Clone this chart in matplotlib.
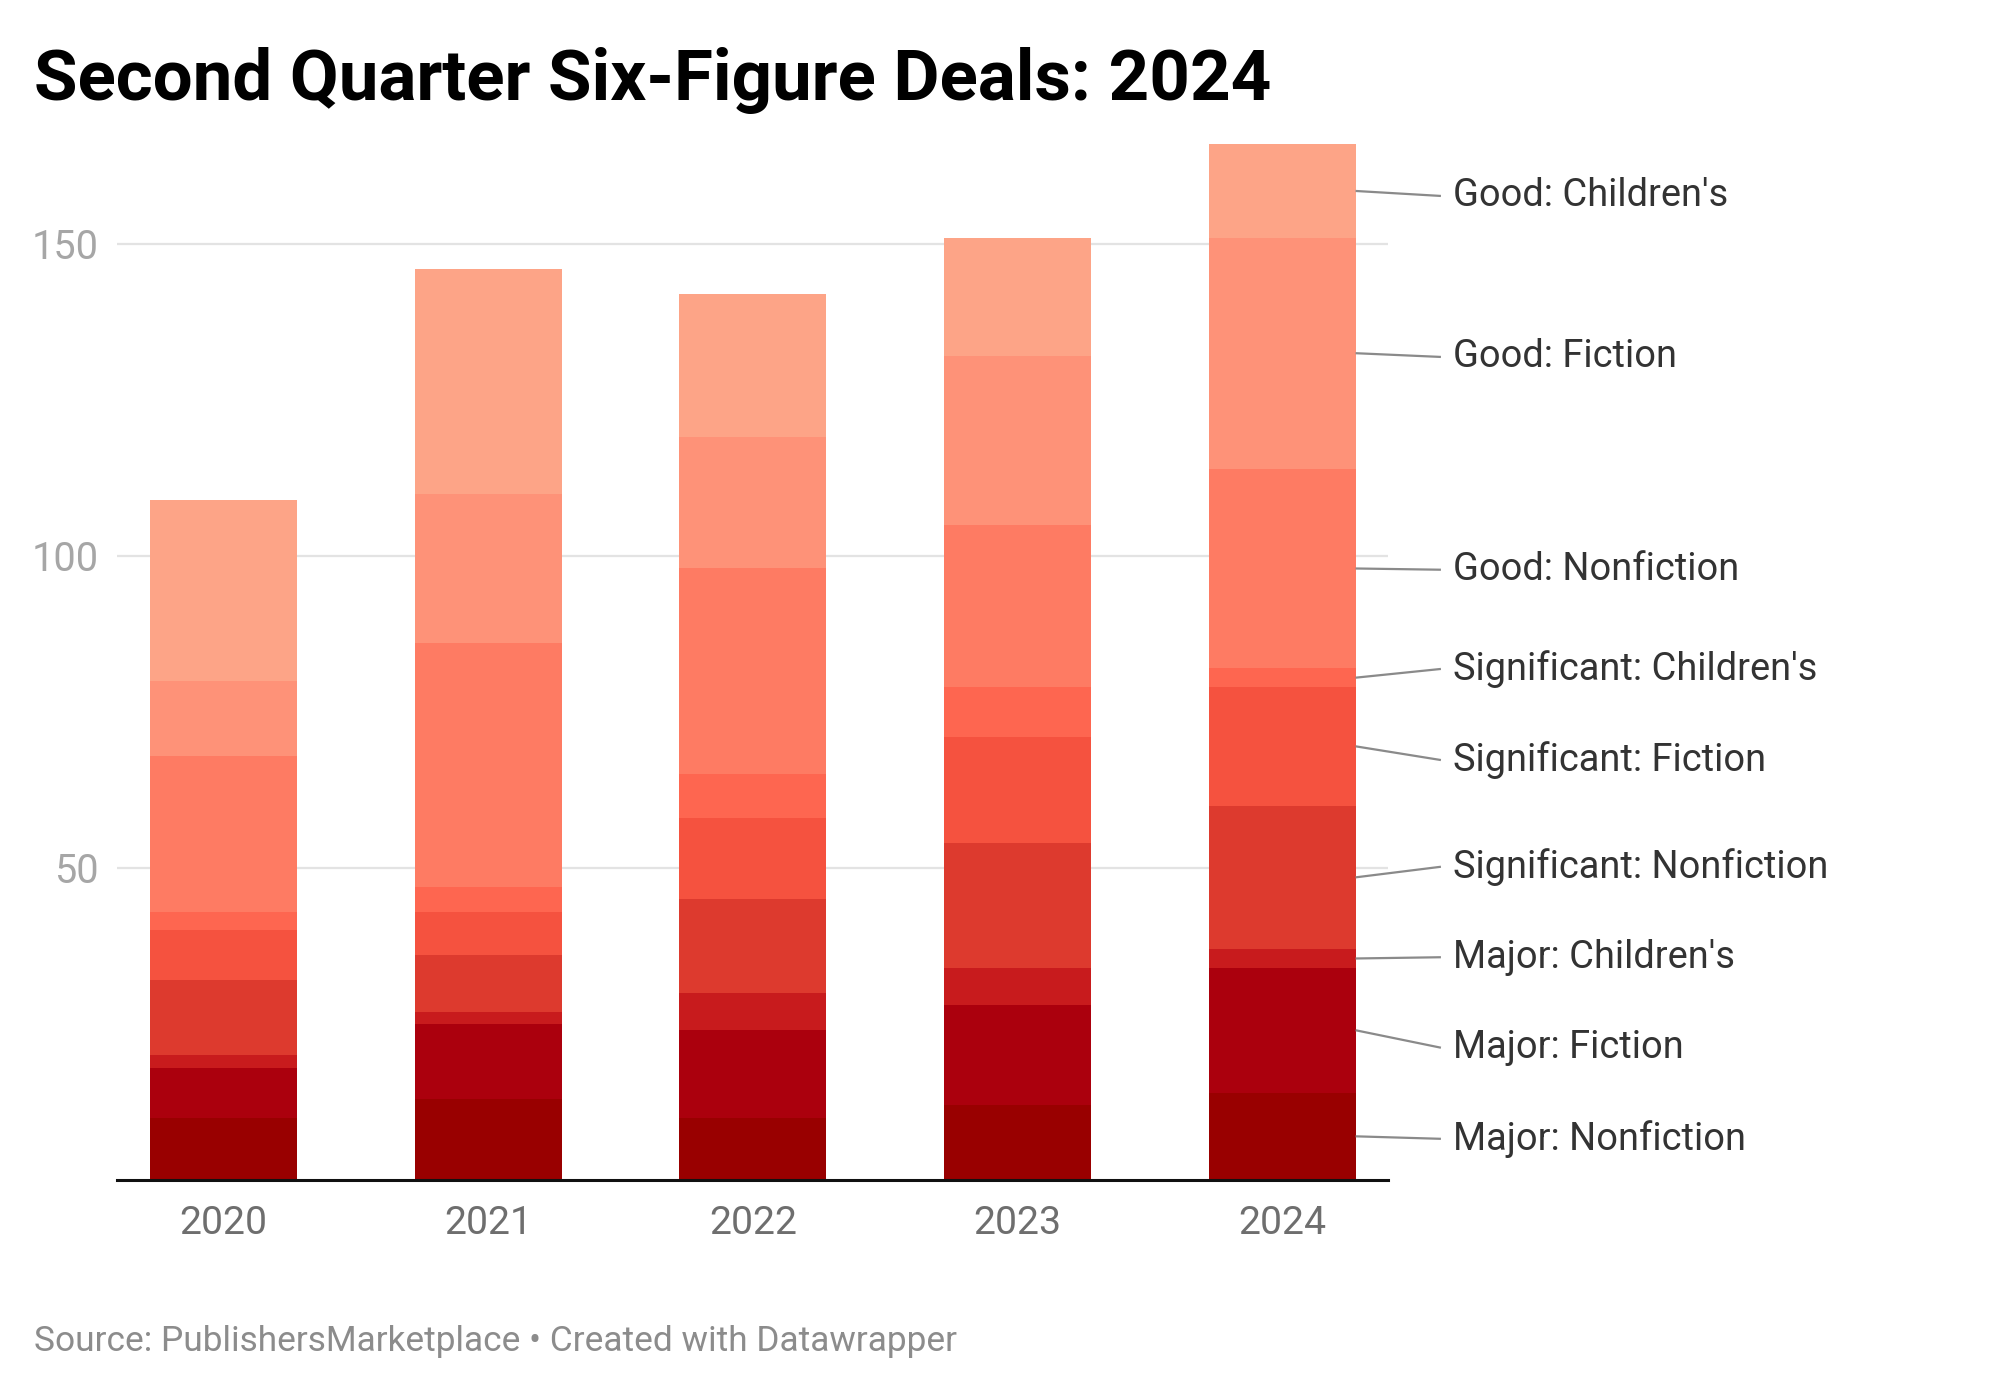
import matplotlib
matplotlib.use("Agg")
import matplotlib.pyplot as plt
import numpy as np

plt.rcParams['font.family'] = ['Roboto', 'DejaVu Sans']

years = ["2020", "2021", "2022", "2023", "2024"]
series = ["Major: Nonfiction", "Major: Fiction", "Major: Children's",
          "Significant: Nonfiction", "Significant: Fiction", "Significant: Children's",
          "Good: Nonfiction", "Good: Fiction", "Good: Children's"]
major_nonfiction = [10, 13, 10, 12, 14]
major_fiction = [8, 12, 14, 16, 20]
major_childrens = [2, 2, 6, 6, 3]
significant_nonfiction = [12, 9, 15, 20, 23]
significant_fiction = [8, 7, 13, 17, 19]
significant_childrens = [3, 4, 7, 8, 3]
good_nonfiction = [25, 39, 33, 26, 32]
good_fiction = [12, 24, 21, 27, 37]
good_childrens = [29, 36, 23, 19, 15]
yticks = [50, 100, 150]

values = [major_nonfiction, major_fiction, major_childrens,
          significant_nonfiction, significant_fiction, significant_childrens,
          good_nonfiction, good_fiction, good_childrens]
colors = ["#990000", "#ab000d", "#c81b1d", "#dd3a2e", "#f5523f",
          "#fe6650", "#fe7b63", "#fe9278", "#fda487"]
# label layout (vertical positions of right-hand labels, in data units)
label_y = [6.6, 21.2, 35.7, 50.2, 67.3, 81.9, 97.8, 131.9, 157.7]

W, H = 2000, 1394
fig = plt.figure(figsize=(W / 200, H / 200), dpi=200)
ax_left, ax_right = 117 / W, 1388 / W
y0_px, y150_px = 1180, 244
ppu = (y0_px - y150_px) / 150.0
ytop = 170
top_px = y0_px - ytop * ppu
ax = fig.add_axes([ax_left, 1 - y0_px / H, ax_right - ax_left, (y0_px - top_px) / H])

x = np.arange(len(years))
bw = 0.555
bottom = np.zeros(len(years))
for vals, c in zip(values, colors):
    v = np.array(vals, dtype=float)
    ax.bar(x, v, bottom=bottom, width=bw, color=c, linewidth=0, zorder=2)
    bottom += v

ax.set_xlim(-0.403, 4.40)
ax.set_ylim(0, ytop)
for s in ["top", "right", "left"]:
    ax.spines[s].set_visible(False)
ax.spines["bottom"].set_color("#111111")
ax.spines["bottom"].set_linewidth(1.1)
ax.spines["bottom"].set_zorder(3)
ax.set_yticks(yticks)
ax.set_yticklabels([str(t) for t in yticks])
ax.yaxis.grid(True, color="#e3e3e3", linewidth=0.8, zorder=0)
ax.set_axisbelow(True)
ax.tick_params(axis="y", length=0, pad=6.5, labelsize=14.3, labelcolor="#a6a6a6")
ax.set_xticks(x)
ax.set_xticklabels(years)
ax.tick_params(axis="x", length=0, pad=9, labelsize=14.1, labelcolor="#6e6e6e")

# right-hand labels with leader lines from the last bar
last = len(years) - 1
cum = 0.0
x_edge = last + bw / 2
x_end = 4.60
x_text = 4.645
for name, vals, ly in zip(series, values, label_y):
    mid = cum + vals[last] / 2.0
    cum += vals[last]
    ax.plot([x_edge, x_end], [mid, ly], color="#8a8a8a", linewidth=0.8,
            clip_on=False, zorder=3, solid_capstyle="butt")
    ax.text(x_text, ly, name, ha="left", va="center", fontsize=13.7,
            color="#333333", clip_on=False)

fig.text(34 / W, 1 - 99.5 / H, "Second Quarter Six-Figure Deals: 2024",
         ha="left", va="baseline", fontsize=25.5, fontweight="bold", color="#000000")
fig.text(34 / W, 1 - 1341 / H,
         "Source: PublishersMarketplace \u2022 Created with Datawrapper",
         ha="left", va="center", fontsize=12.7, color="#8c8c8c")

fig.savefig("out.png", dpi=200, facecolor="white")
